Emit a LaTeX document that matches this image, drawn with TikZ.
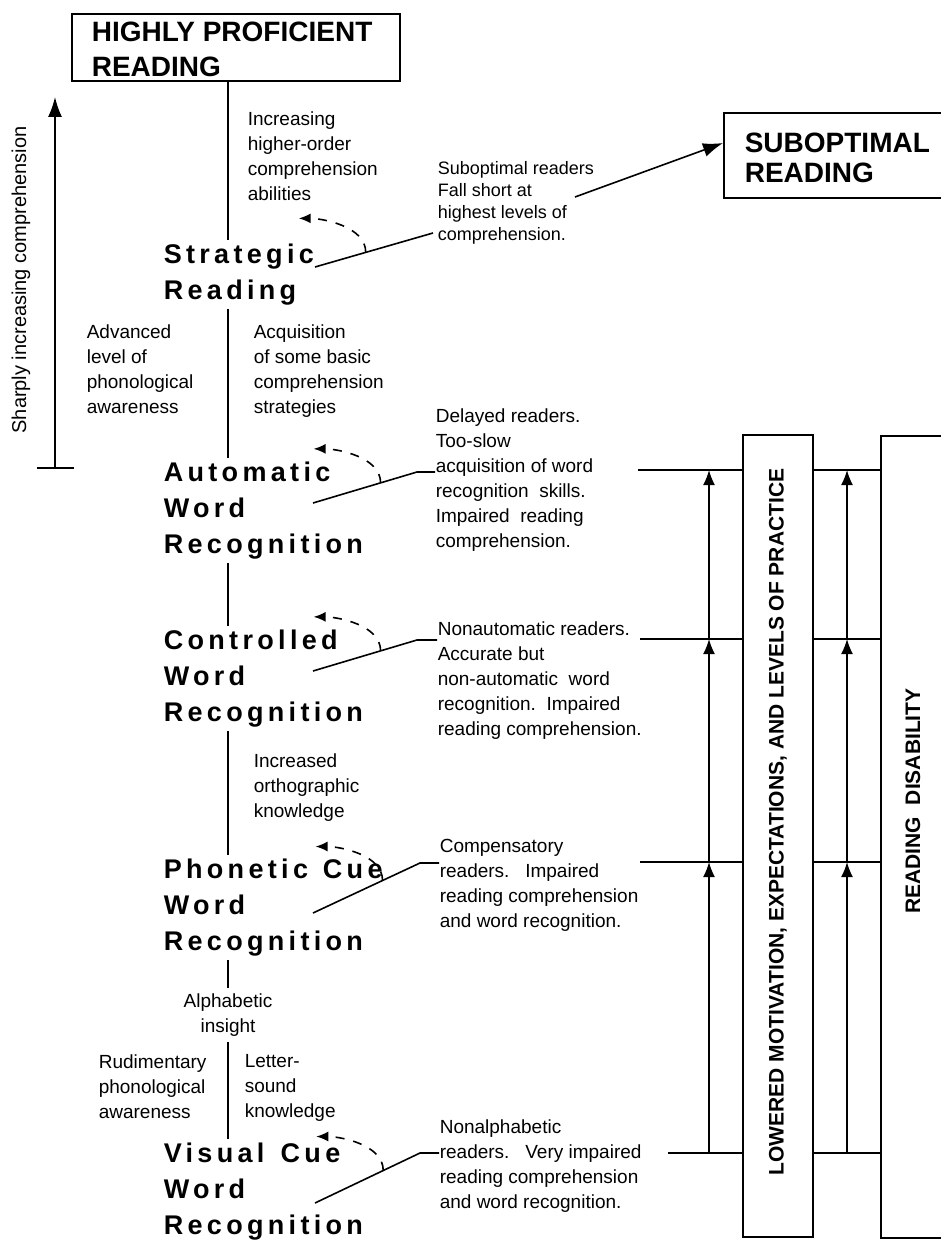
\documentclass[tikz,border=0pt]{standalone}
\usepackage{fontspec}
\usepackage{graphicx}
\setmainfont{Liberation Sans}
\newfontfamily\stagefont[LetterSpace=16]{Liberation Sans}
\usetikzlibrary{arrows.meta,calc}

\tikzset{
  stage/.style={font=\stagefont\bfseries\fontsize{27}{36}\selectfont, align=left, anchor=north west, inner xsep=0pt, inner ysep=3pt},
  note/.style={font=\fontsize{19}{25}\selectfont, align=left, anchor=north west, inner sep=0pt},
  head/.style={font=\bfseries\fontsize{28}{30}\selectfont, anchor=base west, inner sep=0pt},
  dasharc/.style={dash pattern=on 9pt off 9pt, -{Latex[length=12pt,width=10pt]}},
  uparrow/.style={-{Latex[length=15pt,width=12pt]}},
  bigarrow/.style={-{Latex[length=20pt,width=14pt]}},
}

\begin{document}
\begin{tikzpicture}[x=1pt,y=-1pt,line width=1.6pt]
\useasboundingbox (0,0) rectangle (941,1241);
\clip (0,0) rectangle (941,1241);

\node[draw, anchor=north west, minimum width=328pt, minimum height=67pt, inner sep=0pt] (hp) at (71,13) {};
\node[head] (hp1) at (91,42) {HIGHLY PROFICIENT};
\node[head] (hp2) at (91,77) {READING};

\node[draw, anchor=north west, minimum width=260pt, minimum height=85pt, inner sep=0pt] (so) at (723,112) {};
\node[head] (so1) at (744,153) {SUBOPTIMAL};
\node[head] (so2) at (744,183) {READING};

\node[stage] (strat) at (163,240) {Strategic\\Reading};
\node[stage] (auto) at (163,458) {Automatic\\Word\\Recognition};
\node[stage] (ctrl) at (163,626) {Controlled\\Word\\Recognition};
\node[stage] (phon) at (163,855) {Phonetic\hspace{0.55em}Cue\\Word\\Recognition};
\node[stage] (vis) at (163,1139) {Visual\hspace{0.6em}Cue\\Word\\Recognition};

\node[note] (incr) at (247,111) {Increasing\\higher-order\\comprehension\\abilities};
\node[note, font=\fontsize{18}{22}\selectfont] (subopt) at (437,161) {Suboptimal readers\\Fall short at\\highest levels of\\comprehension.};
\node[note] (adv) at (86,324) {Advanced\\level of\\phonological\\awareness};
\node[note] (acq) at (253,324) {Acquisition\\of some basic\\comprehension\\strategies};
\node[note] (delay) at (435,408) {Delayed readers.\\Too-slow\\acquisition of word\\recognition\ \ skills.\\Impaired\ \ reading\\comprehension.};
\node[note] (nonauto) at (437,621) {Nonautomatic readers.\\Accurate but\\non-automatic\ \ word\\recognition.\ \ Impaired\\reading comprehension.};
\node[note] (incd) at (253,753) {Increased\\orthographic\\knowledge};
\node[note] (comp) at (439,838) {Compensatory\\readers.\ \ \ Impaired\\reading comprehension\\and word recognition.};
\node[note, align=center, anchor=north, inner sep=5pt] (alpha) at (228,988) {Alphabetic\\insight};
\node[note] (rud) at (98,1054) {Rudimentary\\phonological\\awareness};
\node[note] (letter) at (244,1054) {Letter-\\sound\\knowledge};
\node[note] (nonalpha) at (439,1119) {Nonalphabetic\\readers.\ \ \ Very impaired\\reading comprehension\\and word recognition.};

\node[draw, minimum width=70pt, minimum height=802pt, inner sep=0pt] (lm) at (778,836)
  {\rotatebox{90}{\bfseries\fontsize{21}{21}\selectfont\hspace*{28pt}LOWERED MOTIVATION, EXPECTATIONS, AND LEVELS OF PRACTICE}};
\node[draw, anchor=north west, minimum width=120pt, minimum height=802pt, inner sep=0pt] (rd) at (880,435) {};
\node[font=\bfseries\fontsize{21}{21}\selectfont, rotate=90] (rdtext) at (913,801) {READING\ \ DISABILITY};

\node[font=\fontsize{20}{20}\selectfont, rotate=90] (sharp) at (21,280) {Sharply increasing comprehension};
\coordinate (cb) at (55,468);
\coordinate (ct) at (55,97);
\draw[bigarrow] (cb) -- (ct);
\draw (cb) ++(-18,0) -- ++(37,0);

\coordinate (spine) at (228,0);
\draw (hp.south -| spine) -- (strat.north -| spine);
\draw (strat.south -| spine) -- (auto.north -| spine);
\draw (auto.south -| spine) -- (ctrl.north -| spine);
\draw (ctrl.south -| spine) -- (phon.north -| spine);
\draw (phon.south -| spine) -- (alpha.north -| spine);
\draw (alpha.south -| spine) -- (vis.north -| spine);

\coordinate (d1) at (315,267);  \coordinate (k1) at (433,233);
\coordinate (d2) at (313,503);  \coordinate (k2) at (417,472);
\coordinate (d3) at (313,671);  \coordinate (k3) at (417,640);
\coordinate (d4) at (313,913);  \coordinate (k4) at (420,863);
\coordinate (d5) at (315,1203); \coordinate (k5) at (420,1153);
\draw (d1) -- (k1);
\draw (d2) -- (k2) -- (k2 -| delay.west);
\draw (d3) -- (k3) -- (k3 -| nonauto.west);
\draw (d4) -- (k4) -- (k4 -| comp.west);
\draw (d5) -- (k5) -- (k5 -| nonalpha.west);
\foreach \i/\f in {1/0.43,2/0.65,3/0.65,4/0.65,5/0.65} {
  \draw[dasharc] ($(d\i)!\f!(k\i)$) .. controls +(0,-26) and +(24,0) .. ++(-67,-34);
}

\coordinate (sa) at (575,197);
\draw[bigarrow] (sa) -- ([yshift=-31pt]so.north west);

\coordinate (r1) at (638,470);
\coordinate (r2) at (640,639);
\coordinate (r3) at (640,862);
\coordinate (r4) at (668,1153);
\foreach \r in {r1,r2,r3,r4} {
  \draw (\r) -- (\r -| lm.west);
  \draw (lm.east |- \r) -- (rd.west |- \r);
}
\coordinate (ua) at (709,0);
\coordinate (ub) at (847,0);
\foreach \lo/\hi in {r4/r3,r3/r2,r2/r1} {
  \draw[uparrow] (ua |- \lo) -- (ua |- \hi);
  \draw[uparrow] (ub |- \lo) -- (ub |- \hi);
}
\end{tikzpicture}
\end{document}
